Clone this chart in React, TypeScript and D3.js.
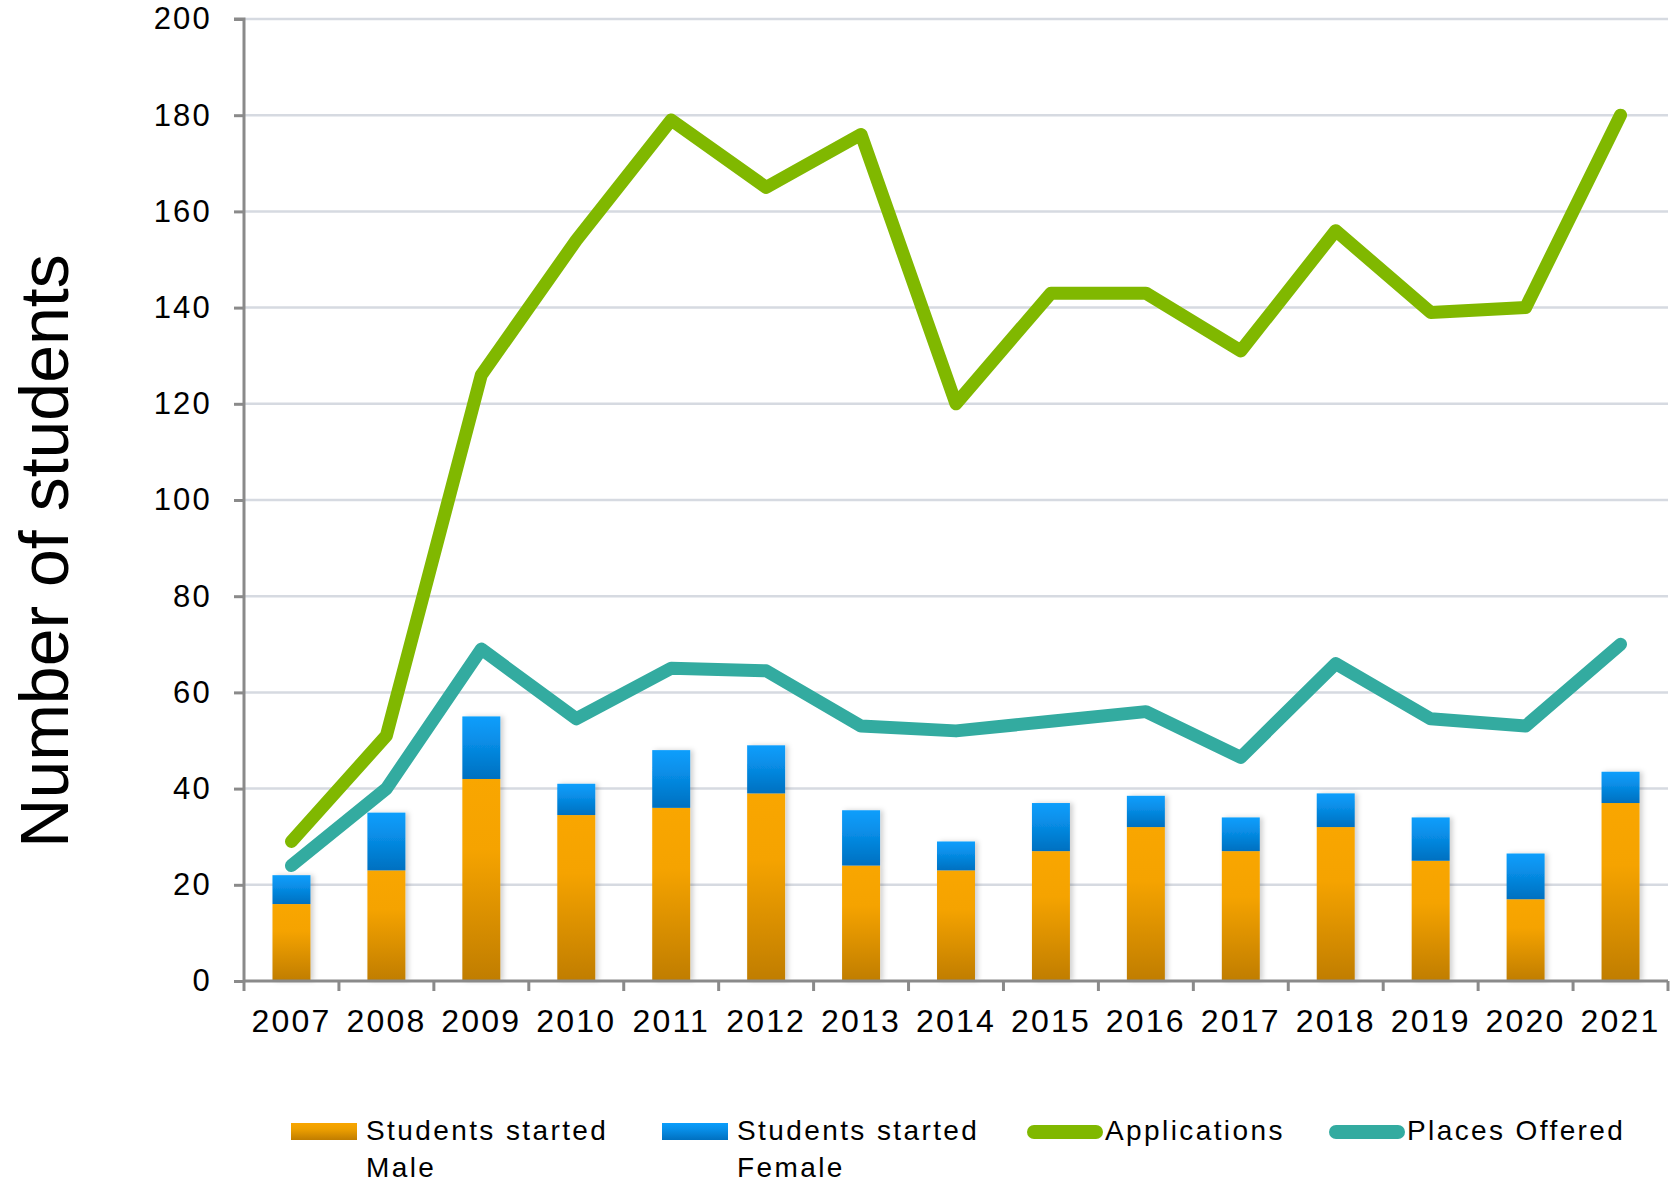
import React, { useEffect, useRef } from 'react';
import * as d3 from 'd3';

const years = ['2007', '2008', '2009', '2010', '2011', '2012', '2013', '2014', '2015', '2016', '2017', '2018', '2019', '2020', '2021'];
const startedMale = [16, 23, 42, 34.5, 36, 39, 24, 23, 27, 32, 27, 32, 25, 17, 37];
const startedFemale = [6, 12, 13, 6.5, 12, 10, 11.5, 6, 10, 6.5, 7, 7, 9, 9.5, 6.5];
const applications = [29, 51, 126, 154, 179, 165, 176, 120, 143, 143, 131, 156, 139, 140, 180];
const placesOffered = [24, 40, 69, 54.5, 65, 64.5, 53, 52, 54, 56, 46.5, 66, 54.5, 53, 70];
const yTicks = [0, 20, 40, 60, 80, 100, 120, 140, 160, 180, 200];

const legendItems = [
  { label: ['Students started', 'Male'], kind: 'bar', fill: 'url(#gradMaleLegend)', x: 291 },
  { label: ['Students started', 'Female'], kind: 'bar', fill: 'url(#gradFemaleLegend)', x: 662 },
  { label: ['Applications'], kind: 'line', fill: '#80b800', x: 1027 },
  { label: ['Places Offered'], kind: 'line', fill: '#33aba0', x: 1329 },
];

const App = () => {
  const svgRef = useRef<SVGSVGElement>(null);

  useEffect(() => {
    const svg = d3.select(svgRef.current);
    svg.selectAll('*').remove();

    const width = 1670;
    const height = 1185;
    const margin = { top: 19, right: 2, bottom: 204, left: 244 };
    const font = '"Liberation Sans", Arial, sans-serif';

    const x = d3.scaleBand()
      .domain(years)
      .range([margin.left, width - margin.right])
      .paddingInner(0.6)
      .paddingOuter(0.3);

    const y = d3.scaleLinear()
      .domain([0, 200])
      .range([height - margin.bottom, margin.top]);

    // gradients + shadow
    const defs = svg.append('defs');
    const grad = (id: string, top: string, mid: string, bottom: string) => {
      const g = defs.append('linearGradient').attr('id', id)
        .attr('x1', 0).attr('y1', 0).attr('x2', 0).attr('y2', 1);
      g.append('stop').attr('offset', '0%').attr('stop-color', top);
      g.append('stop').attr('offset', '35%').attr('stop-color', mid);
      g.append('stop').attr('offset', '100%').attr('stop-color', bottom);
    };
    grad('gradMale', '#f9a600', '#f5a300', '#c07d00');
    grad('gradFemale', '#0a9efc', '#0890ea', '#0070c0');
    grad('gradMaleLegend', '#f9a600', '#eea000', '#c07d00');
    grad('gradFemaleLegend', '#0a9efc', '#0890ea', '#0070c0');
    const shadow = defs.append('filter').attr('id', 'barShadow')
      .attr('x', '-20%').attr('y', '-10%').attr('width', '150%').attr('height', '120%');
    shadow.append('feDropShadow').attr('dx', 3).attr('dy', 0)
      .attr('stdDeviation', 2.5).attr('flood-color', '#000').attr('flood-opacity', 0.18);

    // gridlines
    svg.append('g')
      .selectAll('line')
      .data(yTicks.filter(d => d > 0))
      .join('line')
      .attr('x1', margin.left)
      .attr('x2', width - margin.right)
      .attr('y1', d => y(d))
      .attr('y2', d => y(d))
      .attr('stroke', '#d6dae1')
      .attr('stroke-width', 2.5);

    // stacked bars
    const bars = svg.append('g').attr('filter', 'url(#barShadow)');
    bars.selectAll('rect.male')
      .data(years)
      .join('rect')
      .attr('class', 'male')
      .attr('x', d => x(d)!)
      .attr('width', x.bandwidth())
      .attr('y', (d, i) => y(startedMale[i]))
      .attr('height', (d, i) => y(0) - y(startedMale[i]))
      .attr('fill', 'url(#gradMale)');
    bars.selectAll('rect.female')
      .data(years)
      .join('rect')
      .attr('class', 'female')
      .attr('x', d => x(d)!)
      .attr('width', x.bandwidth())
      .attr('y', (d, i) => y(startedMale[i] + startedFemale[i]))
      .attr('height', (d, i) => y(startedMale[i]) - y(startedMale[i] + startedFemale[i]))
      .attr('fill', 'url(#gradFemale)');

    // lines
    const cx = (d: string) => x(d)! + x.bandwidth() / 2;
    const line = d3.line<number>()
      .x((d, i) => cx(years[i]))
      .y(d => y(d));
    svg.append('path')
      .datum(placesOffered)
      .attr('d', line)
      .attr('fill', 'none')
      .attr('stroke', '#33aba0')
      .attr('stroke-width', 13)
      .attr('stroke-linejoin', 'round')
      .attr('stroke-linecap', 'round');
    svg.append('path')
      .datum(applications)
      .attr('d', line)
      .attr('fill', 'none')
      .attr('stroke', '#80b800')
      .attr('stroke-width', 13)
      .attr('stroke-linejoin', 'round')
      .attr('stroke-linecap', 'round');

    // y axis
    const yAxis = svg.append('g')
      .attr('transform', `translate(${margin.left},0)`)
      .call(d3.axisLeft(y).tickValues(yTicks).tickSize(10).tickPadding(22));
    yAxis.select('.domain').attr('stroke', '#8a8a8a').attr('stroke-width', 3).attr('d', `M-10,${y(200)}H0V${y(0)}`);
    yAxis.selectAll('.tick line').attr('stroke', '#8a8a8a').attr('stroke-width', 3);
    yAxis.selectAll('.tick text')
      .attr('font-family', font)
      .attr('font-size', 31)
      .attr('letter-spacing', 2.2)
      .attr('fill', '#000');

    // x axis
    const xAxis = svg.append('g')
      .attr('transform', `translate(0,${y(0)})`)
      .call(d3.axisBottom(x).tickSize(0).tickPadding(28));
    xAxis.select('.domain').attr('stroke', '#8a8a8a').attr('stroke-width', 3).attr('d', `M${margin.left},0H${width - margin.right}`);
    xAxis.selectAll('.tick text')
      .attr('font-family', font)
      .attr('font-size', 32)
      .attr('letter-spacing', 2.2)
      .attr('fill', '#000');
    const step = x.step();
    svg.append('g')
      .selectAll('line')
      .data(d3.range(years.length + 1))
      .join('line')
      .attr('x1', i => margin.left + i * step)
      .attr('x2', i => margin.left + i * step)
      .attr('y1', y(0))
      .attr('y2', y(0) + 10)
      .attr('stroke', '#8a8a8a')
      .attr('stroke-width', 3);

    // y title
    svg.append('text')
      .attr('transform', `translate(68,551) rotate(-90)`)
      .attr('text-anchor', 'middle')
      .attr('font-family', font)
      .attr('font-size', 68)
      .attr('fill', '#000')
      .text('Number of students');

    // legend
    const legend = svg.append('g');
    legendItems.forEach(item => {
      const g = legend.append('g');
      if (item.kind === 'bar') {
        g.append('rect')
          .attr('x', item.x).attr('y', 1123)
          .attr('width', 66).attr('height', 17)
          .attr('fill', item.fill);
      } else {
        g.append('line')
          .attr('x1', item.x + 7).attr('x2', item.x + 69)
          .attr('y1', 1132).attr('y2', 1132)
          .attr('stroke', item.fill).attr('stroke-width', 14)
          .attr('stroke-linecap', 'round');
      }
      const textX = item.kind === 'bar' ? item.x + 75 : item.x + 78;
      item.label.forEach((t, k) => {
        g.append('text')
          .attr('x', textX)
          .attr('y', 1140 + k * 37)
          .attr('font-family', font)
          .attr('font-size', 28)
          .attr('letter-spacing', 2.4)
          .attr('fill', '#000')
          .text(t);
      });
    });
  }, []);

  return (
    <svg ref={svgRef} width={1670} height={1185}
      style={{ position: 'absolute', left: 0, top: 0, background: '#fff' }} />
  );
};

export default App;
